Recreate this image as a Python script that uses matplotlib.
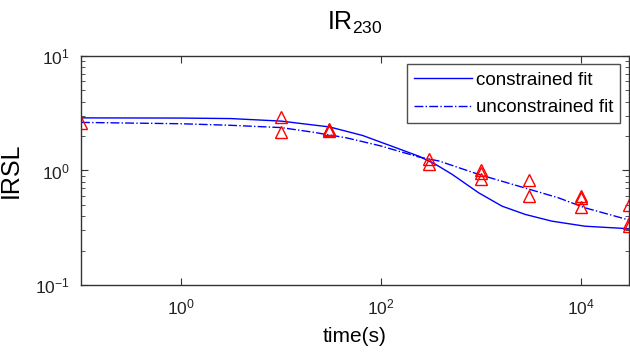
import matplotlib
matplotlib.use("Agg")
import matplotlib.pyplot as plt
from matplotlib.ticker import LogLocator, NullFormatter, FixedLocator, FixedFormatter, NullLocator

plt.rcParams['font.family'] = ['Liberation Sans', 'DejaVu Sans']
plt.rcParams['mathtext.fontset'] = 'custom'
plt.rcParams['mathtext.rm'] = 'Liberation Sans'
plt.rcParams['mathtext.it'] = 'Liberation Sans'

# measured data
t_data = [0.1, 10, 10, 30, 30, 30, 300, 300, 1000, 1000, 1000,
          3000, 3000, 10000, 10000, 10000, 30000, 30000, 30000]
irsl_data = [2.6, 2.92, 2.17, 2.3, 2.25, 2.2, 1.27, 1.14, 1.0, 0.95, 0.85,
             0.82, 0.60, 0.60, 0.57, 0.48, 0.50, 0.35, 0.33]

# fitted curves
t_con = [0.1, 1, 3.16, 10, 30.6, 65.6, 141, 240, 352, 516, 951,
         1622, 2773, 5105, 10965, 30000]
constrained = [2.88, 2.87, 2.84, 2.70, 2.40, 2.02, 1.58, 1.33, 1.13, 0.923, 0.637,
               0.488, 0.413, 0.361, 0.326, 0.31]
t_unc = [0.1, 1, 3.16, 10, 20.9, 44.9, 96.2, 240, 380, 951, 2377, 5943,
         10965, 30000]
unconstrained = [2.63, 2.56, 2.48, 2.37, 2.16, 1.93, 1.65, 1.31, 1.21, 0.923, 0.73,
                 0.577, 0.472, 0.37]

fig = plt.figure(figsize=(6.3, 3.58), dpi=100)
ax = fig.add_axes([0.1286, 0.204, 0.8694, 0.6396])

ax.plot(t_con, constrained, '-', color='#0000ff', lw=1.0, label='constrained fit')
ax.plot(t_unc, unconstrained, '-.', color='#0000ff', lw=1.0, label='unconstrained fit')
ax.plot(t_data, irsl_data, '^', mfc='none', mec='#ff0000', ms=9, mew=1.0, ls='none')

ax.set_xscale('log')
ax.set_yscale('log')
ax.set_xlim(0.1, 3e4)
ax.set_ylim(0.1, 10)

ax.xaxis.set_major_locator(FixedLocator([1, 100, 10000]))
ax.xaxis.set_minor_locator(NullLocator())
ax.xaxis.set_major_formatter(FixedFormatter(['$10^0$', '$10^2$', '$10^4$']))
ax.yaxis.set_major_locator(LogLocator(base=10, numticks=10))
ax.yaxis.set_minor_locator(LogLocator(base=10, subs=range(2, 10), numticks=10))
ax.yaxis.set_minor_formatter(NullFormatter())

ax.tick_params(which='both', direction='in', top=True, right=True, colors='#333333',
               labelcolor='#222222', labelsize=12.5)
ax.tick_params(which='major', length=5)
ax.tick_params(axis='x', which='major', pad=9)
ax.tick_params(axis='y', which='major', pad=8)
ax.tick_params(which='minor', length=3)
for s in ax.spines.values():
    s.set_color('#333333')
    s.set_linewidth(1.0)

ax.set_xlabel('time(s)', fontsize=15, labelpad=7)
ax.set_ylabel('IRSL', fontsize=18, labelpad=9)
ax.set_title('IR$_{230}$', fontsize=18, pad=19)

leg = ax.legend(loc='upper right', fontsize=13.5, frameon=True, fancybox=False,
                edgecolor='#222222', borderpad=0.38, handlelength=3.1,
                labelspacing=0.55, handletextpad=0.2, borderaxespad=0.45)
leg.get_frame().set_linewidth(1.0)

fig.savefig('out.png', dpi=100)
